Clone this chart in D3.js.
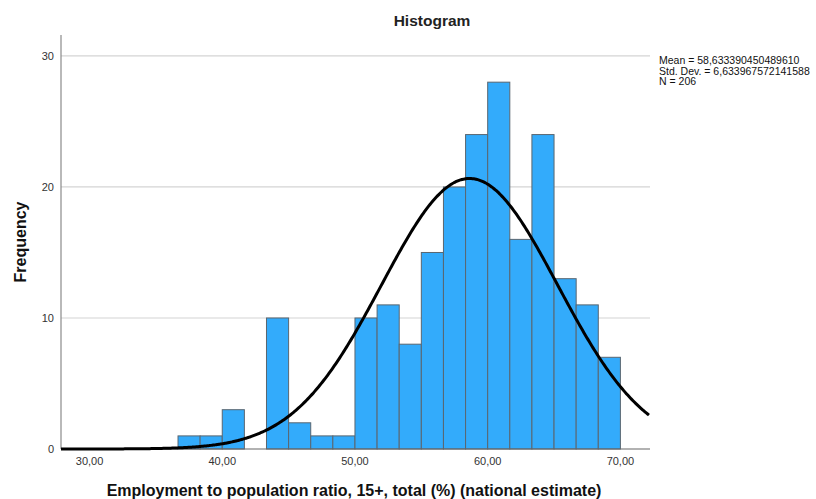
<!DOCTYPE html>
<meta charset="utf-8">
<style>
body { margin: 0; background: #fff; }
text { font-family: "Liberation Sans", Arial, sans-serif; }
.grid line { stroke: #d4d4d4; stroke-width: 1.2px; }
.tick-label { fill: #333; font-size: 11px; }
</style>
<body>
<div id="chart"></div>
<script src="https://cdn.jsdelivr.net/npm/d3@7"></script>
<script>

// bin edges (lower bound) and counts
var binStart = [36.667, 38.333, 40, 41.667, 43.333, 45, 46.667, 48.333, 50, 51.667,
                53.333, 55, 56.667, 58.333, 60, 61.667, 63.333, 65, 66.667, 68.333];
var binWidth = 5 / 3;
var counts = [1, 1, 3, 0, 10, 2, 1, 1, 10, 11,
              8, 15, 20, 24, 28, 16, 24, 13, 11, 7];

var xTicks = [30, 40, 50, 60, 70];
var yTicks = [0, 10, 20, 30];

var statLines = ["Mean = 58,633390450489610", "Std. Dev. = 6,633967572141588", "N = 206"];
var mean = 58.633390450489610,
    sd = 6.633967572141588,
    n = 206;

var width = 816,
    height = 499;

var svg = d3.select("#chart").append("svg")
    .attr("width", width)
    .attr("height", height);

var x = d3.scaleLinear().domain([27.85, 72.23]).range([61, 650]);
var y = d3.scaleLinear().domain([0, 31.6]).range([449, 35]);

var loc = d3.formatLocale({ decimal: ",", thousands: ".", grouping: [3], currency: ["", ""] });
var fmt = loc.format(".2f");

// gridlines
svg.append("g").attr("class", "grid")
  .selectAll("line")
  .data(yTicks.filter(d => d > 0))
  .enter().append("line")
    .attr("x1", x.range()[0]).attr("x2", x.range()[1])
    .attr("y1", d => y(d)).attr("y2", d => y(d));

// bars
svg.append("g")
  .selectAll("rect")
  .data(binStart.map((s, i) => ({ s: s, c: counts[i] })).filter(d => d.c > 0))
  .enter().append("rect")
    .attr("x", d => x(d.s))
    .attr("width", d => x(d.s + binWidth) - x(d.s))
    .attr("y", d => y(d.c))
    .attr("height", d => y(0) - y(d.c))
    .attr("fill", "#33abfb")
    .attr("stroke", "#5a6670")
    .attr("stroke-width", 1);

// axes lines
svg.append("line")
    .attr("x1", x.range()[0]).attr("x2", x.range()[0])
    .attr("y1", y.range()[1]).attr("y2", y(0))
    .attr("stroke", "#8a8a8a").attr("stroke-width", 1.2);
svg.append("line")
    .attr("x1", x.range()[0]).attr("x2", x.range()[1])
    .attr("y1", y(0)).attr("y2", y(0))
    .attr("stroke", "#666").attr("stroke-width", 1.2);

// normal curve from the reported stats
var xs = d3.range(x.domain()[0], x.domain()[1] + 0.001, 0.1);
var curve = xs.map(v => [v, n * binWidth * Math.exp(-0.5 * Math.pow((v - mean) / sd, 2)) / (sd * Math.sqrt(2 * Math.PI))]);
svg.append("path")
    .datum(curve)
    .attr("fill", "none")
    .attr("stroke", "#000")
    .attr("stroke-width", 3)
    .attr("d", d3.line().x(d => x(d[0])).y(d => y(d[1])).curve(d3.curveBasis));

// tick labels
svg.append("g").selectAll("text")
  .data(xTicks)
  .enter().append("text")
    .attr("class", "tick-label")
    .attr("x", d => x(d))
    .attr("y", 465)
    .attr("text-anchor", "middle")
    .text(d => fmt(d));

svg.append("g").selectAll("text")
  .data(yTicks)
  .enter().append("text")
    .attr("class", "tick-label")
    .attr("x", 54)
    .attr("y", d => y(d) + 4)
    .attr("text-anchor", "end")
    .text(d => d);

// titles
svg.append("text")
    .attr("x", 432).attr("y", 26)
    .attr("text-anchor", "middle")
    .style("font-size", "15.5px")
    .style("font-weight", "bold")
    .attr("fill", "#222")
    .text("Histogram");

svg.append("text")
    .attr("x", 354).attr("y", 496)
    .attr("text-anchor", "middle")
    .style("font-size", "16px")
    .style("font-weight", "bold")
    .attr("fill", "#111")
    .text("Employment to population ratio, 15+, total (%) (national estimate)");

svg.append("text")
    .attr("transform", "translate(26,242) rotate(-90)")
    .attr("text-anchor", "middle")
    .style("font-size", "16px")
    .style("font-weight", "bold")
    .attr("fill", "#111")
    .text("Frequency");

// stats box
svg.append("g").selectAll("text")
  .data(statLines)
  .enter().append("text")
    .attr("x", 659)
    .attr("y", (d, i) => 64 + i * 10.5)
    .style("font-size", "10.5px")
    .attr("fill", "#111")
    .text(d => d);

</script>
</body>
